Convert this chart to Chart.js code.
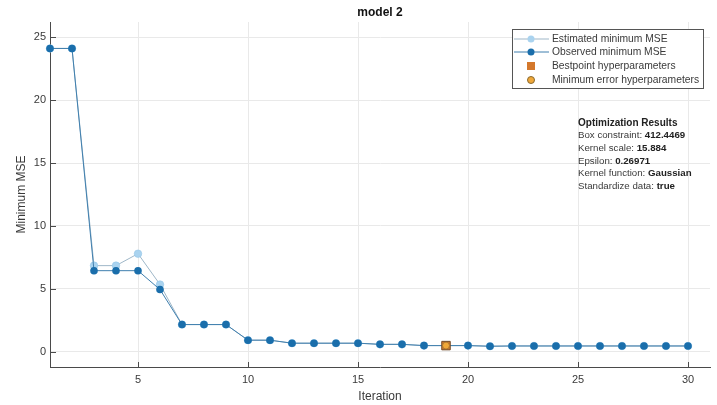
<!DOCTYPE html>
<html>
<head>
<meta charset="utf-8">
<script src="https://cdn.jsdelivr.net/npm/chart.js@4.4.1/dist/chart.umd.min.js"></script>
<style>
    html, body { margin: 0; padding: 0; background: #fff; }
    #wrap { width: 717px; height: 405px; position: relative; }
</style>
</head>
<body>
<div id="wrap"><canvas id="mse-chart"></canvas></div>
<script>
// 資料
const iterations = [1, 2, 3, 4, 5, 6, 7, 8, 9, 10, 11, 12, 13, 14, 15,
    16, 17, 18, 19, 20, 21, 22, 23, 24, 25, 26, 27, 28, 29, 30];
const observedMSE = [24.1, 24.1, 6.45, 6.45, 6.45, 4.95, 2.17, 2.17, 2.17, 0.93,
    0.93, 0.69, 0.69, 0.69, 0.69, 0.6, 0.6, 0.5, 0.5, 0.5,
    0.45, 0.47, 0.47, 0.47, 0.47, 0.47, 0.47, 0.47, 0.47, 0.47];
const estimatedMSE = [24.1, 24.1, 6.85, 6.85, 7.8, 5.35, 2.17, 2.17, 2.17, 0.93,
    0.93, 0.69, 0.69, 0.69, 0.69, 0.6, 0.6, 0.5, 0.5, 0.5,
    0.45, 0.47, 0.47, 0.47, 0.47, 0.47, 0.47, 0.47, 0.47, 0.47];
const bestIteration = [19];
const bestMSE = [0.5];
const xTicks = [5, 10, 15, 20, 25, 30];
const yTicks = [0, 5, 10, 15, 20, 25];
const legendLabels = ['Estimated minimum MSE', 'Observed minimum MSE',
    'Bestpoint hyperparameters', 'Minimum error hyperparameters'];
const resultTitle = 'Optimization Results';
const resultRows = [
    ['Box constraint: ', '412.4469'],
    ['Kernel scale: ', '15.884'],
    ['Epsilon: ', '0.26971'],
    ['Kernel function: ', 'Gaussian'],
    ['Standardize data: ', 'true']
];

const FONT = '"Liberation Sans", Arial, Helvetica, sans-serif';
const COLORS = {
    observed: '#1a6eab',
    observedLine: '#3f7fae',
    estimated: '#aad3ef',
    estimatedEdge: '#8fc3e6',
    estimatedLine: '#9fb7c8',
    best: '#d4782c',
    bestEdge: '#6e4a2a',
    minErr: '#f0a83a',
    axis: '#4a4a4a',
    grid: '#e9e9e9',
    text: '#3a3a3a'
};

const toPoints = (xs, ys) => xs.map((x, i) => ({ x, y: ys[i] }));

// 圖例與結果文字
const overlayPlugin = {
    id: 'overlay',
    afterDraw(chart) {
        const ctx = chart.ctx;
        const xs = chart.scales.x;
        const ys = chart.scales.y;
        const area = chart.chartArea;

        // 刻度線（向內）
        ctx.save();
        ctx.strokeStyle = COLORS.axis;
        ctx.lineWidth = 1;
        xTicks.forEach(v => {
            const px = Math.round(xs.getPixelForValue(v)) + 0.5;
            ctx.beginPath();
            ctx.moveTo(px, area.bottom);
            ctx.lineTo(px, area.bottom - 5);
            ctx.stroke();
        });
        yTicks.forEach(v => {
            const py = Math.round(ys.getPixelForValue(v)) + 0.5;
            ctx.beginPath();
            ctx.moveTo(area.left, py);
            ctx.lineTo(area.left + 6, py);
            ctx.stroke();
        });
        ctx.restore();

        // 圖例
        const box = { x: 512, y: 29, w: 191, h: 59 };
        ctx.save();
        ctx.fillStyle = '#fff';
        ctx.fillRect(box.x, box.y, box.w, box.h);
        ctx.strokeStyle = '#555';
        ctx.lineWidth = 1;
        ctx.strokeRect(box.x + 0.5, box.y + 0.5, box.w, box.h);

        const rowY = [39, 52, 66, 80];
        const mx = 531;
        ctx.font = '10.3px ' + FONT;
        ctx.textBaseline = 'middle';
        ctx.textAlign = 'left';
        legendLabels.forEach((label, i) => {
            const y = rowY[i];
            if (i === 0 || i === 1) {
                ctx.strokeStyle = i === 0 ? COLORS.estimatedLine : COLORS.observedLine;
                ctx.beginPath();
                ctx.moveTo(514, y);
                ctx.lineTo(549, y);
                ctx.stroke();
                ctx.beginPath();
                ctx.arc(mx, y, 3.5, 0, Math.PI * 2);
                ctx.fillStyle = i === 0 ? COLORS.estimated : COLORS.observed;
                ctx.fill();
            } else if (i === 2) {
                ctx.fillStyle = COLORS.best;
                ctx.fillRect(mx - 4, y - 4, 8, 8);
            } else {
                ctx.beginPath();
                ctx.arc(mx, y, 3.5, 0, Math.PI * 2);
                ctx.fillStyle = COLORS.minErr;
                ctx.fill();
                ctx.strokeStyle = '#8a6a30';
                ctx.stroke();
            }
            ctx.fillStyle = COLORS.text;
            ctx.fillText(label, 552, y);
        });

        // 最佳化結果文字
        const tx = 578;
        let ty = 123;
        ctx.fillStyle = '#222';
        ctx.font = 'bold 10px ' + FONT;
        ctx.fillText(resultTitle, tx, ty);
        resultRows.forEach(([key, val]) => {
            ty += 12.7;
            ctx.font = '9.7px ' + FONT;
            ctx.fillStyle = COLORS.text;
            ctx.fillText(key, tx, ty);
            const w = ctx.measureText(key).width;
            ctx.font = 'bold 9.7px ' + FONT;
            ctx.fillStyle = '#222';
            ctx.fillText(val, tx + w, ty);
        });
        ctx.restore();
    }
};

const chart = new Chart(document.getElementById('mse-chart'), {
    type: 'line',
    data: {
        datasets: [
            {
                label: legendLabels[3],
                type: 'scatter',
                data: toPoints(bestIteration, bestMSE),
                pointStyle: 'circle',
                pointRadius: 3.5,
                backgroundColor: COLORS.minErr,
                borderColor: '#a07030',
                borderWidth: 0.8,
                order: 0
            },
            {
                label: legendLabels[2],
                type: 'scatter',
                data: toPoints(bestIteration, bestMSE),
                pointStyle: 'rect',
                pointRadius: 6,
                backgroundColor: COLORS.best,
                borderColor: COLORS.bestEdge,
                borderWidth: 1,
                order: 1
            },
            {
                label: legendLabels[1],
                data: toPoints(iterations, observedMSE),
                borderColor: COLORS.observedLine,
                borderWidth: 1,
                pointRadius: 3.8,
                pointBackgroundColor: COLORS.observed,
                pointBorderColor: COLORS.observed,
                pointBorderWidth: 0,
                tension: 0,
                clip: false,
                order: 2
            },
            {
                label: legendLabels[0],
                data: toPoints(iterations, estimatedMSE),
                borderColor: COLORS.estimatedLine,
                borderWidth: 1,
                pointRadius: 3.8,
                pointBackgroundColor: COLORS.estimated,
                pointBorderColor: COLORS.estimatedEdge,
                pointBorderWidth: 0.5,
                tension: 0,
                clip: false,
                order: 3
            }
        ]
    },
    options: {
        responsive: true,
        maintainAspectRatio: false,
        animation: false,
        layout: { padding: { left: 0, right: 5, top: 0, bottom: 0 } },
        plugins: {
            legend: { display: false },
            tooltip: { enabled: false },
            title: {
                display: true,
                fullSize: false,
                text: 'model 2',
                color: '#111',
                font: { family: FONT, size: 12, weight: 'bold' },
                padding: { top: 5, bottom: 2.6 }
            }
        },
        scales: {
            x: {
                type: 'linear',
                min: 1,
                max: 31,
                afterBuildTicks: (scale) => {
                    scale.ticks = xTicks.map(v => ({ value: v }));
                },
                afterFit: (scale) => { scale.height = 38; },
                ticks: {
                    color: COLORS.text,
                    font: { family: FONT, size: 11 },
                    padding: 6,
                    maxRotation: 0
                },
                grid: { color: COLORS.grid, drawTicks: false },
                border: { color: COLORS.axis, width: 1 },
                title: {
                    display: true,
                    text: 'Iteration',
                    color: COLORS.text,
                    font: { family: FONT, size: 12 },
                    padding: { top: 0, bottom: 1 }
                }
            },
            y: {
                type: 'linear',
                min: -1.2,
                max: 26.2,
                afterBuildTicks: (scale) => {
                    scale.ticks = yTicks.map(v => ({ value: v }));
                },
                afterFit: (scale) => { scale.width = 50; },
                ticks: {
                    color: COLORS.text,
                    font: { family: FONT, size: 11 },
                    padding: 4
                },
                grid: { color: COLORS.grid, drawTicks: false },
                border: { color: COLORS.axis, width: 1 },
                title: {
                    display: true,
                    text: 'Minimum MSE',
                    color: COLORS.text,
                    font: { family: FONT, size: 12 },
                    padding: { top: 14, bottom: 0 }
                }
            }
        }
    },
    plugins: [overlayPlugin]
});
</script>
</body>
</html>
